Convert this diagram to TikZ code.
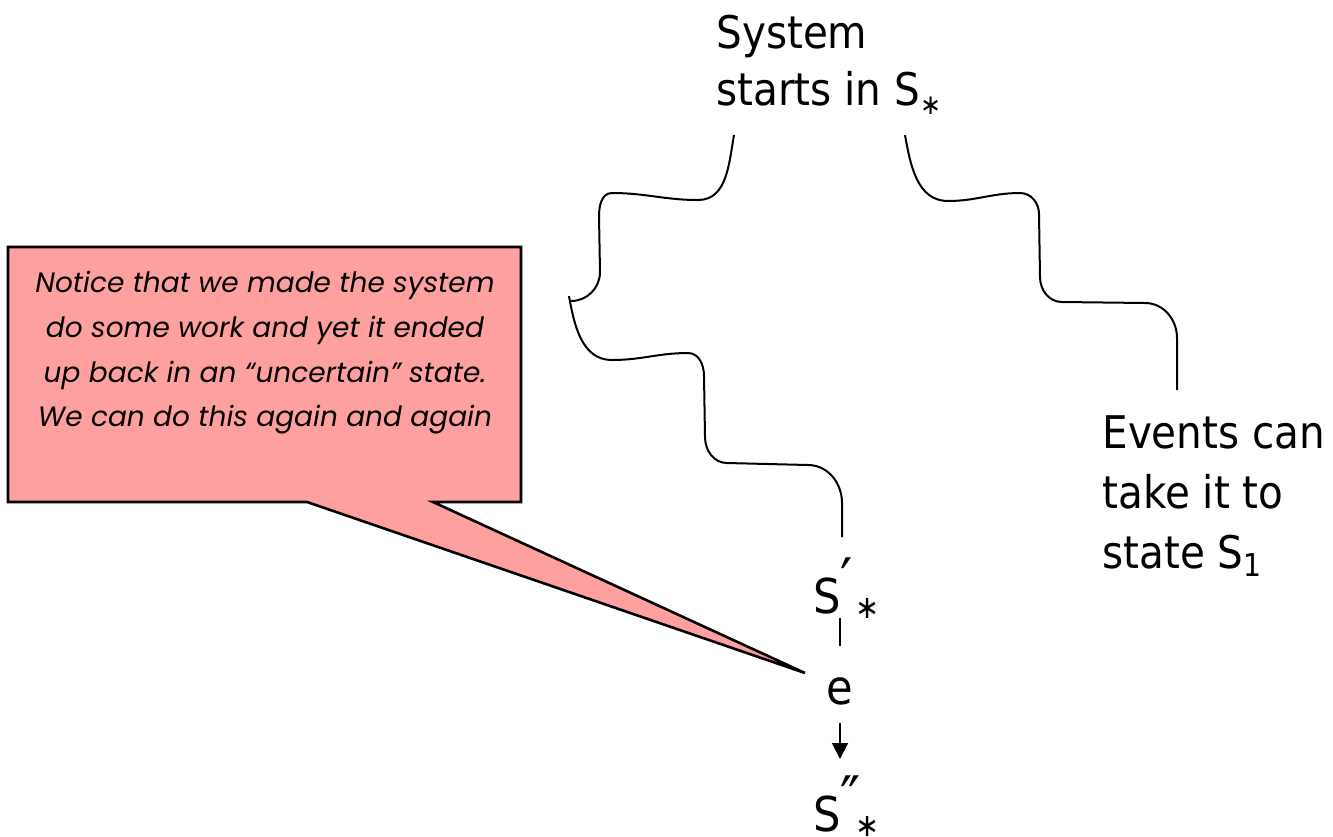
\documentclass[tikz,border=0pt]{standalone}
\usepackage{fontspec}
\setmainfont{DejaVu Sans}[FakeStretch=0.9]
\newfontfamily\notefont{Poppins}
\usepackage{tikz}
\usetikzlibrary{arrows.meta}
\definecolor{notepink}{RGB}{255,160,160}
\newcommand\substar{\raisebox{-0.2em}{\fontsize{14}{14}\selectfont ∗}}
\newcommand\sprime[1]{S\rlap{\raisebox{0.24em}{\fontsize{30}{30}\selectfont #1}}\hspace{0.3em}\raisebox{-0.12em}{\fontsize{16}{16}\selectfont ∗}}

\begin{document}
\begin{tikzpicture}[x=0.5pt, y=-0.5pt,
    wig/.style={line width=1pt},
    link/.style={line width=1pt},
    lbl/.style={inner sep=0pt, align=left, font=\fontsize{22.5}{28.5}\selectfont},
    st/.style={inner sep=0pt, anchor=base west, font=\fontsize{24}{28}\selectfont}]
        \useasboundingbox (0,0) rectangle (1333,836);
        \coordinate (tip) at (805,673);
        % callout
        \draw[line width=1.3pt, fill=notepink] (8,247) -- (521,247) -- (521,502) -- (433,502) -- (tip) -- (307,502) -- (8,502) -- cycle;
        \node[font=\notefont\itshape\fontsize{14}{22.3}\selectfont, align=center, inner sep=0pt] (note) at (265,353)
            {Notice that we made the system\\do some work and yet it ended\\up back in an “uncertain” state.\\We can do this again and again};
        % labels
        \node[lbl, anchor=north west] (sys) at (716,15) {System\\starts in S\substar};
        \node[lbl, anchor=north west, font=\fontsize{22.5}{30}\selectfont] (ev) at (1102,415) {Events can\\take it to\\state S\textsubscript{1}};
        \node[st] (sp) at (813,613) {\sprime{′}};
        \node[inner sep=0pt, font=\fontsize{24}{28}\selectfont] (e) at (840,691) {e};
        \node[st] (spp) at (813,831) {\sprime{″}};
        \draw[link, shorten <=15.5pt, shorten >=2.5pt] (e.north) -- (e.north |- sp.base);
        \draw[link, -{Triangle[length=8pt, width=8pt]}, shorten <=9pt, shorten >=36pt] (e.south) -- (e.south |- spp.base);
        % the two wiggly braces
        \coordinate (ls) at (734,135);
        \coordinate (lt) at (569,296);
        \coordinate (le) at (842,537);
        \coordinate (rs) at (905,135);
        \coordinate (re) at (1177,390);
        \draw[wig] (ls) to[out=-100,in=0] (698,200) to[out=180,in=0] (612,193) to[out=180,in=90] (599,216) -- (600,272) to[out=-90,in=0] (571,301);
        \draw[wig] (lt) to[out=-80,in=180] (612,360) to[out=0,in=180] (688,353) to[out=0,in=90] (704,376) -- (705,437) to[out=-90,in=180] (727,463) -- (808,465) to[out=0,in=90] (842,503) -- (le);
        \draw[wig] (rs) to[out=-80,in=180] (948,201) to[out=0,in=180] (1020,193) to[out=0,in=90] (1039,214) -- (1040,277) to[out=-90,in=180] (1062,302) -- (1145,303) to[out=0,in=90] (1177,338) -- (re);
\end{tikzpicture}
\end{document}
